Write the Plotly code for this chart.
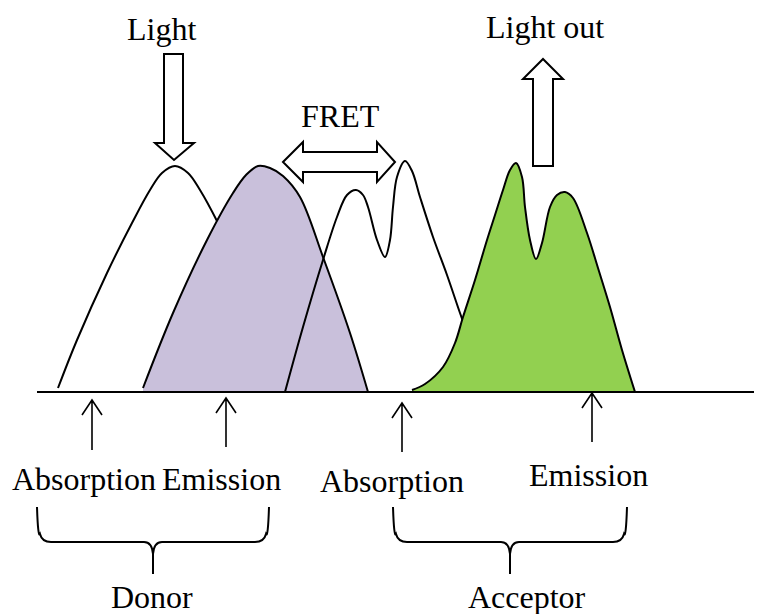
import plotly.graph_objects as go

# ---- spectra (x position, intensity above baseline) ----
donor_abs_x = [58, 77, 107, 132, 150, 162, 175, 188, 200, 218, 248, 273, 292]
donor_abs_y = [4, 52, 119, 169, 202, 219, 226, 219, 202, 169, 105, 45, 4]

donor_em_x = [143, 173, 207, 233, 246, 258, 270, 283, 300, 323, 350, 368]
donor_em_y = [4, 79, 152, 199, 217, 226, 224, 216, 195, 135, 59, 0]

acc_abs_x = [285, 303, 323, 337, 347, 356, 363, 368, 377, 385, 390, 393, 397, 405, 412, 420, 433, 447, 460, 472, 485]
acc_abs_y = [0, 65, 132, 175, 197, 202, 197, 185, 152, 135, 152, 185, 215, 231, 221, 195, 155, 117, 79, 45, 10]

acc_em_x = [412, 425, 443, 455, 463, 475, 487, 495, 503, 510, 516, 522, 525, 530, 536, 542, 550, 557, 565, 573, 587, 598, 610, 622, 635]
acc_em_y = [2, 8, 25, 49, 75, 112, 152, 177, 202, 222, 229, 215, 185, 152, 133, 149, 185, 197, 200, 194, 159, 124, 85, 42, 0]

# ---- labels ----
label_text = ["Light", "Light out", "FRET", "Absorption", "Emission",
              "Absorption", "Emission", "Donor", "Acceptor"]

PURPLE = "#C9C0DB"
GREEN = "#92D050"
FONT = "Liberation Serif, Times New Roman, serif"

fig = go.Figure()

fig.add_trace(go.Scatter(x=donor_abs_x, y=donor_abs_y, mode="lines",
                         line=dict(color="black", width=2, shape="spline", smoothing=1.0),
                         hoverinfo="skip"))
fig.add_trace(go.Scatter(x=donor_em_x, y=donor_em_y, mode="lines", fill="tozeroy",
                         fillcolor=PURPLE,
                         line=dict(color="black", width=2, shape="spline", smoothing=1.0),
                         hoverinfo="skip"))
fig.add_trace(go.Scatter(x=acc_abs_x, y=acc_abs_y, mode="lines",
                         line=dict(color="black", width=2, shape="spline", smoothing=1.0),
                         hoverinfo="skip"))
fig.add_trace(go.Scatter(x=acc_em_x, y=acc_em_y, mode="lines", fill="tozeroy",
                         fillcolor=GREEN,
                         line=dict(color="black", width=2, shape="spline", smoothing=1.0),
                         hoverinfo="skip"))

shapes = []
shapes.append(dict(type="line", xref="x", yref="y", x0=37, x1=775, y0=0, y1=0,
                   line=dict(color="black", width=2)))

block_paths = [
    "M 164,338 L 183,338 L 183,249 L 194,249 L 174,232 L 155,249 L 164,249 Z",
    "M 533,226 L 553,226 L 553,313 L 563,313 L 543,333 L 523,313 L 533,313 Z",
    "M 283,230 L 303,250 L 303,240 L 377,240 L 377,250 L 395,230 L 377,210 "
    "L 377,220 L 303,220 L 303,210 Z",
]
for p in block_paths:
    shapes.append(dict(type="path", xref="x", yref="y", path=p, fillcolor="white",
                       line=dict(color="black", width=2)))

for x, yb, yt in [(92, -58, -8), (226, -55, -6), (402, -60, -11), (592, -50, -1)]:
    p = (f"M {x},{yb} L {x},{yt} M {x-10},{yt-15} L {x},{yt} L {x+10},{yt-15}")
    shapes.append(dict(type="path", xref="x", yref="y", path=p,
                       line=dict(color="black", width=1.6)))

for x0, xc, x1 in [(37, 153, 269), (393, 510, 627)]:
    top, hy, bot = -115, -150, -182
    p = (f"M {x0},{top} Q {x0+1},{hy+4} {x0+3},{hy+8} Q {x0+5},{hy} {x0+14},{hy} "
         f"L {xc-9},{hy} Q {xc-1},{hy} {xc},{hy-12} L {xc},{bot} "
         f"M {xc},{hy-12} Q {xc+1},{hy} {xc+9},{hy} "
         f"L {x1-14},{hy} Q {x1-5},{hy} {x1-3},{hy+8} Q {x1-1},{hy+4} {x1},{top}")
    shapes.append(dict(type="path", xref="x", yref="y", path=p,
                       line=dict(color="black", width=2)))

label_pos = [(161, 363), (545, 365), (340, 276), (84, -87), (221, -87),
             (392, -89), (588, -83), (152, -205), (527, -205)]
annotations = []
for t, (x, y) in zip(label_text, label_pos):
    annotations.append(dict(x=x, y=y, xref="x", yref="y", text=t, showarrow=False,
                            xanchor="center", yanchor="middle",
                            font=dict(family=FONT, size=32, color="black")))

# the page body has an 8px margin, so the plot is offset by 8px; ranges compensate
fig.update_layout(
    width=762, height=614,
    margin=dict(l=0, r=0, t=0, b=0),
    paper_bgcolor="white", plot_bgcolor="white",
    showlegend=False,
    shapes=shapes, annotations=annotations,
    xaxis=dict(range=[8, 770], visible=False, showgrid=False, zeroline=False, fixedrange=True),
    yaxis=dict(range=[-230, 384], visible=False, showgrid=False, zeroline=False, fixedrange=True),
)

fig.write_html("out.html")
